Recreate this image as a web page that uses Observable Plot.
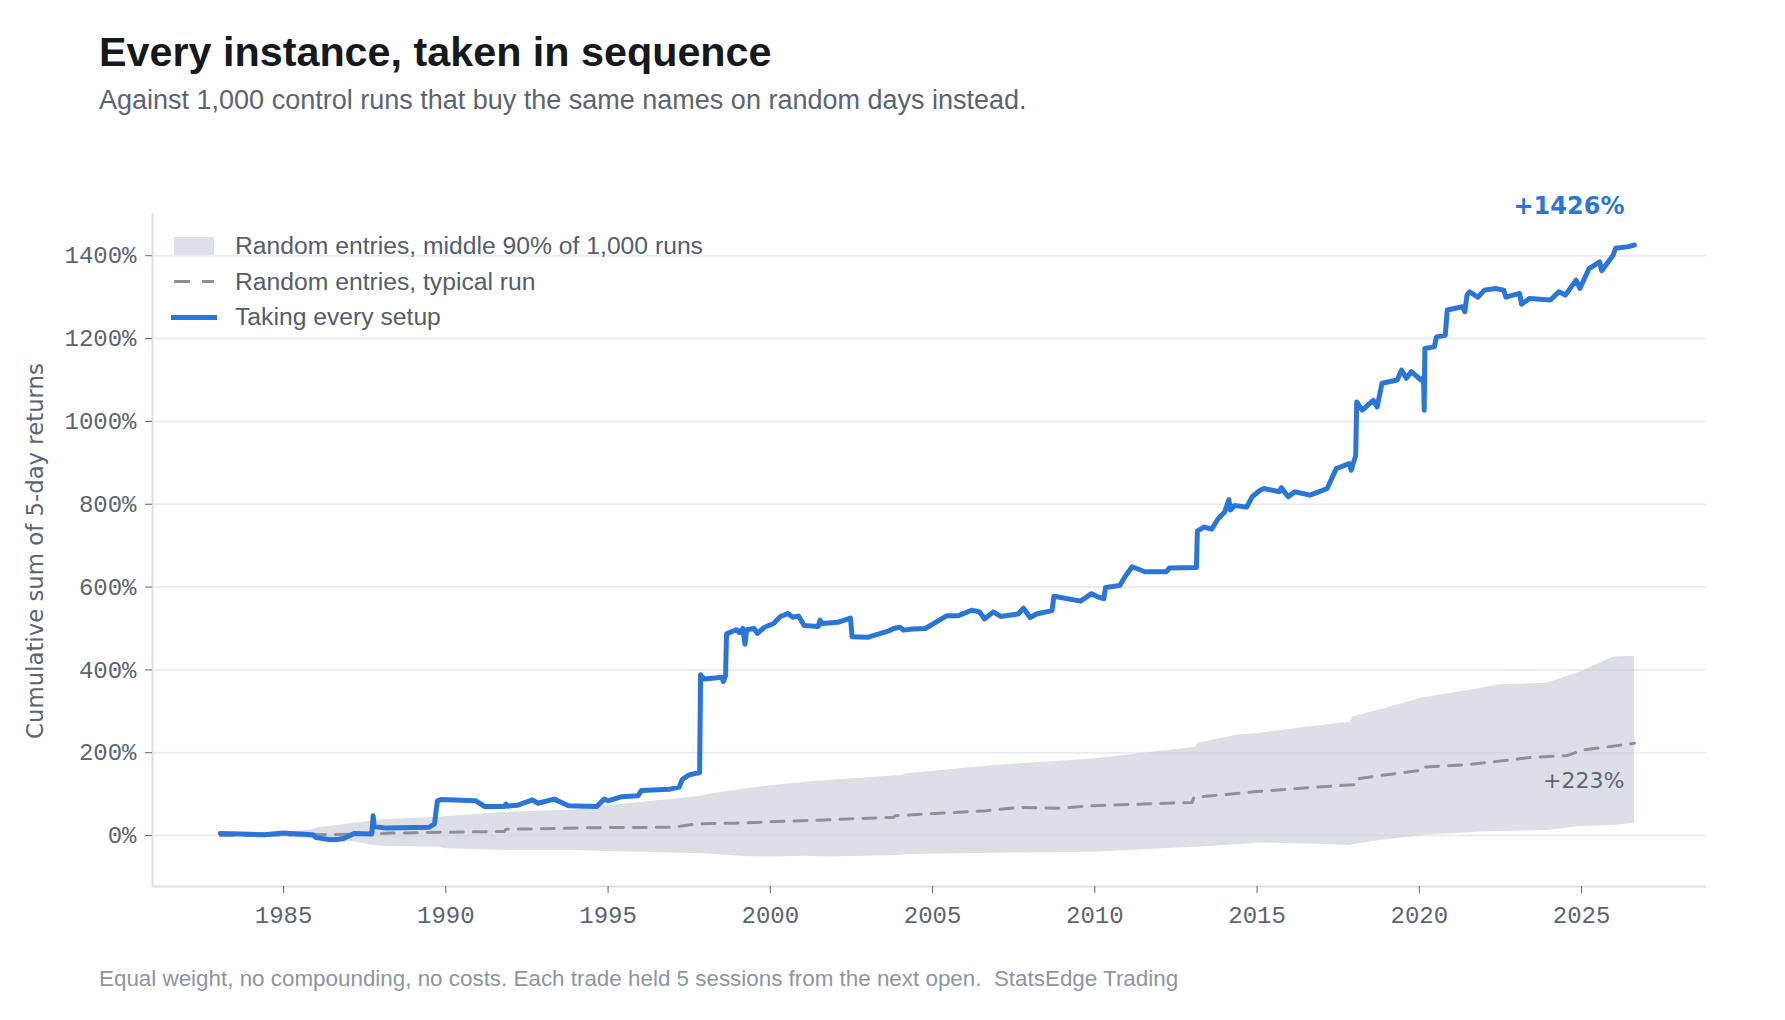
<!DOCTYPE html>
<html>
<head>
<meta charset="utf-8">
<script src="https://cdn.jsdelivr.net/npm/d3@7"></script>
<script src="https://cdn.jsdelivr.net/npm/@observablehq/plot@0.6"></script>
<style>
  html, body { margin: 0; padding: 0; background: #ffffff; }
  body { width: 1785px; height: 1020px; position: relative; overflow: hidden; font-family: "Liberation Sans", Arial, sans-serif; }
  .t { position: absolute; left: 99px; white-space: pre; line-height: 1; }
  #title { font-weight: bold; font-size: 41.3px; color: #15181d; top: 32px; }
  #subtitle { font-size: 27px; color: #5b6472; top: 87px; }
  #caption { font-size: 22.4px; color: #8b95a5; top: 968px; }
  #chart { position: absolute; left: 0; top: 150px; }
  #ylabel { position: absolute; left: 35px; top: 551px; transform: translate(-50%, -50%) rotate(-90deg); font-family: "DejaVu Sans", sans-serif; font-size: 22.8px; color: #5b6472; white-space: nowrap; line-height: 1; }
  .leg { position: absolute; font-size: 24.7px; color: #545d6b; white-space: nowrap; line-height: 1; left: 235px; }
  .sw { position: absolute; }
</style>
</head>
<body>
<div id="title" class="t">Every instance, taken in sequence</div>
<div id="subtitle" class="t">Against 1,000 control runs that buy the same names on random days instead.</div>
<div id="chart"></div>
<div id="ylabel">Cumulative sum of 5-day returns</div>
<div class="sw" style="left:174px;top:237px;width:40px;height:18px;background:#dde1e7"></div>
<div class="sw" style="left:174px;top:279.5px;width:16px;height:3px;background:#8a909c"></div>
<div class="sw" style="left:202px;top:279.5px;width:12px;height:3px;background:#8a909c"></div>
<div class="sw" style="left:171px;top:314.5px;width:46px;height:5px;background:#2a76d8"></div>
<div class="leg" style="top:234px">Random entries, middle 90% of 1,000 runs</div>
<div class="leg" style="top:270px">Random entries, typical run</div>
<div class="leg" style="top:304.5px">Taking every setup</div>
<div id="caption" class="t">Equal weight, no compounding, no costs. Each trade held 5 sessions from the next open.  StatsEdge Trading</div>
<script>
// Strategy: cumulative sum of 5-day returns (%) taking every setup
const stratYears = [1983.05,1984.0,1984.41,1984.97,1985.5,1985.9,1986.0,1986.45,1986.7,1986.85,1987.17,1987.72,1987.76,1987.79,1988.16,1989.48,1989.65,1989.74,1989.85,1990.92,1991.2,1991.8,1991.85,1991.9,1992.2,1992.67,1992.84,1993.34,1993.78,1994.65,1994.88,1995.0,1995.42,1995.92,1996.03,1996.91,1997.19,1997.29,1997.51,1997.82,1997.85,1997.96,1998.2,1998.51,1998.55,1998.62,1998.65,1998.95,1999.05,1999.15,1999.22,1999.27,1999.5,1999.6,1999.82,2000.1,2000.31,2000.54,2000.7,2000.87,2001.04,2001.48,2001.53,2001.6,2002.08,2002.47,2002.52,2003.02,2003.68,2003.8,2004.0,2004.1,2004.4,2004.78,2005.44,2005.8,2006.2,2006.45,2006.6,2006.87,2007.1,2007.64,2007.8,2008.01,2008.2,2008.68,2008.74,2009.56,2009.9,2010.1,2010.28,2010.33,2010.77,2010.94,2011.15,2011.54,2012.2,2012.3,2013.13,2013.16,2013.36,2013.6,2013.8,2014.0,2014.13,2014.18,2014.3,2014.68,2014.85,2015.1,2015.21,2015.69,2015.75,2015.96,2016.16,2016.63,2016.9,2017.16,2017.3,2017.44,2017.84,2017.9,2018.04,2018.07,2018.24,2018.58,2018.7,2018.85,2019.32,2019.45,2019.6,2019.75,2020.05,2020.13,2020.15,2020.17,2020.46,2020.53,2020.8,2020.86,2021.33,2021.4,2021.47,2021.55,2021.8,2022.01,2022.34,2022.6,2022.67,2023.09,2023.15,2023.4,2024.04,2024.3,2024.5,2024.83,2024.95,2025.23,2025.56,2025.62,2025.97,2026.05,2026.44,2026.63];
const stratValues = [5,3,2,6,4,2,-5,-10,-9,-7,5,4,48,22,18,20,28,84,87,84,70,70,76,71,73,86,78,88,72,70,88,84,94,96,109,112,117,136,147,152,388,378,380,382,372,386,487,497,490,500,462,497,500,488,503,512,529,536,527,530,507,505,520,512,515,525,480,479,495,500,503,496,499,500,531,531,544,540,523,540,529,535,549,526,535,543,578,566,584,576,572,599,604,626,649,637,637,646,647,735,745,740,765,781,811,786,797,793,818,834,838,830,840,818,830,822,830,838,862,886,898,882,918,1047,1027,1051,1035,1092,1100,1124,1104,1120,1100,1106,1027,1176,1180,1204,1208,1269,1277,1265,1305,1313,1300,1317,1321,1317,1300,1309,1283,1297,1293,1313,1305,1341,1321,1369,1385,1364,1401,1418,1422,1426];

// Random entries: middle 90% band of 1,000 runs
const bandYears = [1983.05,1985.0,1985.9,1986.0,1987.0,1987.8,1988.0,1989.8,1990.0,1991.9,1994.0,1994.6,1996.0,1997.85,1998.2,1999.3,2000.0,2001.1,2001.75,2004.0,2004.2,2006.9,2009.95,2013.1,2013.15,2014.35,2015.1,2016.33,2017.87,2017.95,2018.8,2020.12,2021.77,2022.5,2023.93,2024.96,2025.98,2026.63];
const bandLow  = [-2,-4,-8,-8,-14,-24,-26,-28,-32,-36,-36,-38,-40,-44,-45,-51,-52,-50,-52,-48,-46,-43,-40,-28,-28,-22,-18,-20,-24,-22,-12,0,8,10,12,22,24,30];
const bandHigh = [6,8,14,18,28,36,38,44,46,56,62,70,80,95,101,113,120,129,133,145,149,169,185,213,222,242,247,260,274,286,304,333,354,364,368,395,431,433];

// Random entries: typical (median) run
const medYears  = [1983.05,1986.0,1987.8,1988.3,1991.8,1991.85,1994.6,1997.0,1997.7,1998.9,2001.0,2003.8,2003.85,2006.65,2007.7,2008.85,2009.95,2013.0,2013.05,2015.1,2016.8,2018.05,2018.1,2018.8,2020.0,2020.05,2021.46,2023.5,2024.55,2025.07,2025.9,2026.63];
const medValues = [0,2,4,6,10,15,19,20,28,30,36,44,48,60,68,66,72,80,92,107,117,123,137,145,157,165,171,189,193,207,215,223];

const yTicks = [0,200,400,600,800,1000,1200,1400];
const xTicks = [1985,1990,1995,2000,2005,2010,2015,2020,2025];
const xDomain = [1980.96, 2028.85];
const yDomain = [-123, 1502];

const strat = stratYears.map((x, i) => ({x, y: stratValues[i]}));
const band = bandYears.map((x, i) => ({x, lo: bandLow[i], hi: bandHigh[i]}));
const med = medYears.map((x, i) => ({x, y: medValues[i]}));
const stratEnd = [strat[strat.length - 1]];
const medEnd = [med[med.length - 1]];

const chart = Plot.plot({
  width: 1785,
  height: 800,
  marginLeft: 152,
  marginRight: 79,
  marginTop: 63,
  marginBottom: 64,
  x: {domain: xDomain},
  y: {domain: yDomain},
  style: {fontFamily: "'Liberation Mono', monospace", fontSize: "24px", color: "#5b6472", background: "transparent"},
  marks: [
    Plot.gridY(yTicks, {stroke: "#e9edf2", strokeOpacity: 1, strokeWidth: 2}),
    Plot.areaY(band, {x: "x", y1: "lo", y2: "hi", fill: "#c5ccd6", fillOpacity: 0.6}),
    Plot.ruleX([xDomain[0]], {stroke: "#dadee5", strokeWidth: 2}),
    Plot.ruleY([yDomain[0]], {stroke: "#dadee5", strokeWidth: 2}),
    Plot.lineY(med, {x: "x", y: "y", stroke: "#8a909c", strokeWidth: 3, strokeDasharray: "13,10"}),
    Plot.lineY(strat, {x: "x", y: "y", stroke: "#2a76d8", strokeWidth: 5, strokeLinejoin: "round", strokeLinecap: "round"}),
    Plot.axisY(yTicks, {tickFormat: d => d + "%", tickSize: 7, tickPadding: 9, label: null, stroke: "#5b6472"}),
    Plot.axisX(xTicks, {tickFormat: d => String(d), tickSize: 7, tickPadding: 12, label: null, stroke: "#5b6472"}),
    Plot.text(stratEnd, {x: "x", y: "y", text: d => "+" + d.y + "%", textAnchor: "end", dx: -10, dy: -39, fill: "#2a76d8", fontWeight: "bold", fontSize: 24, fontFamily: "'DejaVu Sans', sans-serif"}),
    Plot.text(medEnd, {x: "x", y: "y", text: d => "+" + d.y + "%", textAnchor: "end", dx: -10, dy: 38, fill: "#5d6574", fontSize: 22, fontFamily: "'DejaVu Sans', sans-serif"})
  ]
});
document.getElementById("chart").appendChild(chart);
</script>
</body>
</html>
